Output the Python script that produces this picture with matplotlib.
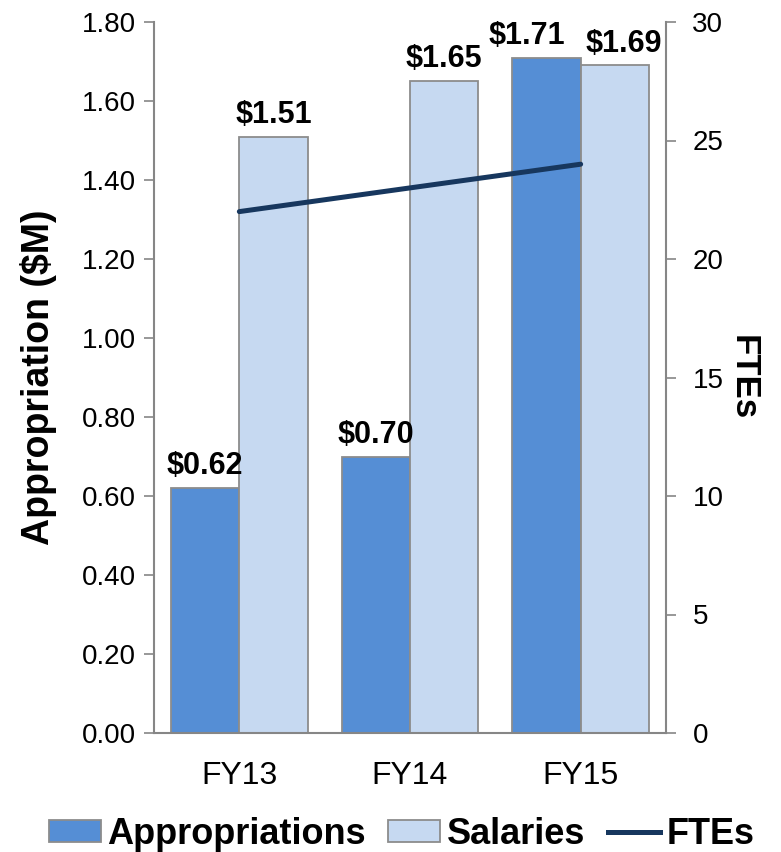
import matplotlib
matplotlib.use("Agg")
import matplotlib.pyplot as plt
from matplotlib.patches import Patch
from matplotlib.lines import Line2D
import numpy as np

# Data
years = ["FY13", "FY14", "FY15"]
appropriations = [0.62, 0.70, 1.71]
salaries = [1.51, 1.65, 1.69]
ftes = [22, 23, 24]
left_ticks = [0.0, 0.2, 0.4, 0.6, 0.8, 1.0, 1.2, 1.4, 1.6, 1.8]
right_ticks = [0, 5, 10, 15, 20, 25, 30]

APP_COLOR = "#558ED5"
SAL_COLOR = "#C6D9F1"
LINE_COLOR = "#17375E"
EDGE = "#8C8C8C"
SPINE = "#868686"

plt.rcParams["font.family"] = ["Liberation Sans", "DejaVu Sans"]

fig = plt.figure(figsize=(7.81, 8.52), dpi=100)
ax = fig.add_axes([154 / 781, 119 / 852, 512 / 781, 711 / 852])

x = np.arange(len(years))
w = 0.4
b1 = ax.bar(x - w / 2, appropriations, w, color=APP_COLOR, edgecolor=EDGE, linewidth=1.3, zorder=2)
b2 = ax.bar(x + w / 2, salaries, w, color=SAL_COLOR, edgecolor=EDGE, linewidth=1.3, zorder=2)

ax.set_xlim(-0.5, len(years) - 0.5)
ax.set_ylim(0, 1.8)
ax.set_yticks(left_ticks)
ax.set_yticklabels([f"{v:.2f}" for v in left_ticks])
ax.set_xticks(x)
ax.set_xticklabels(years)
ax.tick_params(axis="x", length=0, pad=20, labelsize=23)
ax.tick_params(axis="y", direction="out", length=7, width=1.2, color=SPINE, labelsize=20, pad=6)
for s in ["top", "right"]:
    ax.spines[s].set_visible(False)
for s in ["left", "bottom"]:
    ax.spines[s].set_color(SPINE)
    ax.spines[s].set_linewidth(1.5)
ax.set_ylabel("Appropriation ($M)", fontsize=27, fontweight="bold", labelpad=18)

# Value labels above bars; the last pair is nudged apart so the labels don't collide
nudge_app = [0, 0, -20]
nudge_sal = [0, 0, 9]
for bars, vals, nudges in ((b1, appropriations, nudge_app), (b2, salaries, nudge_sal)):
    for rect, v, dx in zip(bars, vals, nudges):
        ax.annotate(f"${v:.2f}", (rect.get_x() + rect.get_width() / 2, v),
                    xytext=(dx * 0.72, 5), textcoords="offset points", ha="center", va="bottom",
                    fontsize=22, fontweight="bold", zorder=5)

# FTE line on secondary axis
ax2 = ax.twinx()
ax2.plot(x, ftes, color=LINE_COLOR, linewidth=3.6, solid_capstyle="round", zorder=3)
ax2.set_ylim(0, 30)
ax2.set_yticks(right_ticks)
ax2.tick_params(axis="y", direction="out", length=7, width=1.2, color=SPINE, labelsize=20, pad=12)
for s in ["top", "left", "bottom"]:
    ax2.spines[s].set_visible(False)
ax2.spines["right"].set_color(SPINE)
ax2.spines["right"].set_linewidth(1.5)
ax2.set_ylabel("FTEs", fontsize=25, fontweight="bold", rotation=270, labelpad=26)

handles = [
    Patch(facecolor=APP_COLOR, edgecolor=EDGE, linewidth=1.3),
    Patch(facecolor=SAL_COLOR, edgecolor=EDGE, linewidth=1.3),
    Line2D([0], [0], color=LINE_COLOR, linewidth=3.6),
]
fig.legend(handles, ["Appropriations", "Salaries", "FTEs"], loc="lower center",
           bbox_to_anchor=(0.514, -0.038), ncol=3, frameon=False,
           prop={"size": 26, "weight": "bold"}, handlelength=1.44, handleheight=0.55,
           handletextpad=0.17, columnspacing=0.64)

fig.savefig("out.png", dpi=100)
